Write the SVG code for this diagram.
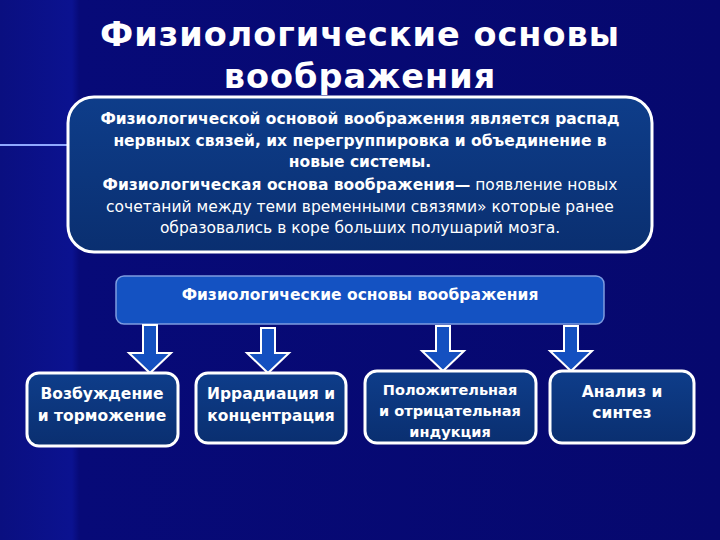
<svg xmlns="http://www.w3.org/2000/svg" width="720" height="540" viewBox="0 0 720 540">
<defs>
<linearGradient id="bg" x1="0" y1="0" x2="1" y2="0">
<stop offset="0" stop-color="#0a0f80"/><stop offset="0.1" stop-color="#0b1290"/><stop offset="0.11" stop-color="#070a78"/><stop offset="1" stop-color="#06086e"/>
</linearGradient>
<linearGradient id="box" x1="0" y1="0" x2="0" y2="1">
<stop offset="0" stop-color="#0e3d8a"/><stop offset="1" stop-color="#0a2f70"/>
</linearGradient>
</defs>
<style>
.t{font-family:"DejaVu Sans","Liberation Sans",sans-serif;fill:#fff;text-anchor:middle}
.b{font-weight:bold}
.nb{fill:url(#box);stroke:#fff;stroke-width:3}
.arr{fill:#1450c0;stroke:#fff;stroke-width:2}
</style>
<rect width="720" height="540" fill="url(#bg)"/>
<line x1="0" y1="145" x2="67" y2="145" stroke="#8fa8ff" stroke-width="2"/>
<text class="t b" x="360" y="46" font-size="33.5" fill="#eee" style="letter-spacing:1px">Физиологические основы</text>
<text class="t b" x="360" y="88" font-size="33.5" style="letter-spacing:1px">воображения</text>
<g id="main">
<rect class="nb" x="68" y="97" width="584" height="155" rx="26"/>
<g class="t" font-size="15.5">
<text class="b" x="360" y="124">Физиологической основой воображения является распад</text>
<text class="b" x="360" y="146">нервных связей, их перегруппировка и объединение в</text>
<text class="b" x="360" y="167">новые системы.</text>
<text x="360" y="190"><tspan font-weight="bold">Физиологическая основа воображения—</tspan> появление новых</text>
<text x="360" y="212">сочетаний между теми временными связями» которые ранее</text>
<text x="360" y="233">образовались в коре больших полушарий мозга.</text>
</g>
</g>
<g id="bar">
<rect x="116" y="276" width="488" height="48" rx="8" fill="#1452c2" stroke="#7d9ce0" stroke-width="1.5"/>
<text class="t b" x="360" y="300" font-size="15.5">Физиологические основы воображения</text>
</g>
<g id="connectors">
<path class="arr" d="M143 325h14v28h14l-21 20-21-20h14z"/>
<path class="arr" d="M261 328h14v25h14l-21 20-21-20h14z"/>
<path class="arr" d="M436 326h14v25h14l-21 20-21-20h14z"/>
<path class="arr" d="M564 326h14v25h14l-21 20-21-20h14z"/>
</g>
<g class="t b" font-size="15.5">
<g id="n1"><rect class="nb" x="27" y="373" width="151" height="73" rx="12"/>
<text x="102" y="399">Возбуждение</text><text x="102" y="421">и торможение</text></g>
<g id="n2"><rect class="nb" x="196" y="373" width="150" height="70" rx="12"/>
<text x="271" y="399">Иррадиация и</text><text x="271" y="421">концентрация</text></g>
<g id="n3"><rect class="nb" x="365" y="371" width="171" height="72" rx="12"/>
<text x="450" y="395" font-size="14.5">Положительная</text><text x="450" y="416" font-size="14.5">и отрицательная</text><text x="450" y="437" font-size="14.5">индукция</text></g>
<g id="n4"><rect class="nb" x="550" y="371" width="144" height="72" rx="12"/>
<text x="622" y="397">Анализ и</text><text x="622" y="418">синтез</text></g>
</g>
</svg>
